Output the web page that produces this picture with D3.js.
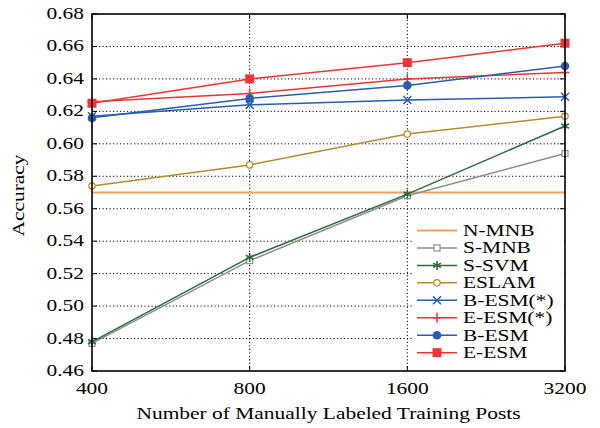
<!DOCTYPE html>
<html>
<head>
<meta charset="utf-8">
<script src="https://cdn.jsdelivr.net/npm/d3@7"></script>
<style>
  body { margin: 0; background: #fff; }
  text { font-family: "Liberation Serif", "DejaVu Serif", serif; fill: #000; }
</style>
</head>
<body>
<div id="chart"></div>
<script>
var posts = [400, 800, 1600, 3200];
var yTicks = [0.46, 0.48, 0.50, 0.52, 0.54, 0.56, 0.58, 0.60, 0.62, 0.64, 0.66, 0.68];

var nMNB    = [0.570, 0.570, 0.570, 0.570];
var sMNB    = [0.477, 0.528, 0.568, 0.594];
var sSVM    = [0.478, 0.530, 0.569, 0.611];
var eslam   = [0.574, 0.587, 0.606, 0.617];
var bESMs   = [0.617, 0.624, 0.627, 0.629];
var eESMs   = [0.626, 0.631, 0.640, 0.644];
var bESM    = [0.616, 0.628, 0.636, 0.648];
var eESM    = [0.625, 0.640, 0.650, 0.662];

var series = [
    {name: "N-MNB",     values: nMNB,  color: "#f5a05a", mark: "none"},
    {name: "S-MNB",     values: sMNB,  color: "#8e8e8e", mark: "square-open"},
    {name: "S-SVM",     values: sSVM,  color: "#2f6b3b", mark: "asterisk"},
    {name: "ESLAM",     values: eslam, color: "#b88a2e", mark: "circle-open"},
    {name: "B-ESM(*)",  values: bESMs, color: "#2a5db0", mark: "x"},
    {name: "E-ESM(*)",  values: eESMs, color: "#ee3535", mark: "plus"},
    {name: "B-ESM",     values: bESM,  color: "#2a5db0", mark: "circle"},
    {name: "E-ESM",     values: eESM,  color: "#ee3535", mark: "square"}
];

var width = 600, height = 428;
var margin = {left: 92, right: 35, top: 14, bottom: 57};
var fs = '16px';
var stretchK = 1.34;

var svg = d3.select('#chart').append('svg')
    .attr('width', width)
    .attr('height', height);

// widen the glyphs a bit, the original uses a wide TeX font
function stretch(sel) {
    sel.each(function () {
        var w = this.getComputedTextLength();
        d3.select(this).attr('textLength', w * stretchK).attr('lengthAdjust', 'spacingAndGlyphs');
    });
}

var x = d3.scaleLog().base(2)
    .domain([400, 3200])
    .range([margin.left, width - margin.right]);

var y = d3.scaleLinear()
    .domain([0.46, 0.68])
    .range([height - margin.bottom, margin.top]);

// grid
var grid = svg.append('g');
grid.selectAll('.hg')
    .data(yTicks.slice(1, -1)).enter()
    .append('line')
    .attr('x1', x(400)).attr('x2', x(3200))
    .attr('y1', function (d) { return y(d); })
    .attr('y2', function (d) { return y(d); })
    .attr('stroke', '#000')
    .attr('stroke-width', 1)
    .attr('stroke-dasharray', '1.2,2.3');
grid.selectAll('.vg')
    .data(posts.slice(1, -1)).enter()
    .append('line')
    .attr('y1', y(0.46)).attr('y2', y(0.68))
    .attr('x1', function (d) { return x(d); })
    .attr('x2', function (d) { return x(d); })
    .attr('stroke', '#000')
    .attr('stroke-width', 1)
    .attr('stroke-dasharray', '1.2,2.3');

// inward ticks on all sides
var tickLen = 5;
var ticks = svg.append('g').attr('stroke', '#000').attr('stroke-width', 1);
yTicks.forEach(function (t) {
    ticks.append('line').attr('x1', x(400)).attr('x2', x(400) + tickLen).attr('y1', y(t)).attr('y2', y(t));
    ticks.append('line').attr('x1', x(3200)).attr('x2', x(3200) - tickLen).attr('y1', y(t)).attr('y2', y(t));
});
posts.forEach(function (p) {
    ticks.append('line').attr('x1', x(p)).attr('x2', x(p)).attr('y1', y(0.46)).attr('y2', y(0.46) - tickLen);
    ticks.append('line').attr('x1', x(p)).attr('x2', x(p)).attr('y1', y(0.68)).attr('y2', y(0.68) + tickLen);
});

// tick labels
svg.selectAll('.ylab')
    .data(yTicks).enter()
    .append('text')
    .attr('x', x(400) - 8)
    .attr('y', function (d) { return y(d) + 5; })
    .attr('text-anchor', 'end')
    .style('font-size', fs)
    .text(function (d) { return d.toFixed(2); })
    .call(stretch);

svg.selectAll('.xlab')
    .data(posts).enter()
    .append('text')
    .attr('x', function (d) { return x(d); })
    .attr('y', y(0.46) + 23)
    .attr('text-anchor', 'middle')
    .style('font-size', fs)
    .text(function (d) { return d; })
    .call(stretch);

svg.append('text')
    .attr('x', (x(400) + x(3200)) / 2)
    .attr('y', 419)
    .attr('text-anchor', 'middle')
    .style('font-size', fs)
    .text('Number of Manually Labeled Training Posts')
    .call(stretch);

svg.append('text')
    .attr('transform', 'translate(24,' + ((y(0.46) + y(0.68)) / 2 + 3) + ') rotate(-90)')
    .attr('text-anchor', 'middle')
    .style('font-size', fs)
    .text('Accuracy')
    .call(stretch);

// marker drawing
function drawMark(sel, type, color, cx, cy) {
    var g = sel.append('g').attr('transform', 'translate(' + cx + ',' + cy + ')');
    if (type === 'square-open') {
        g.append('rect').attr('x', -3).attr('y', -3).attr('width', 6).attr('height', 6)
            .attr('fill', '#fff').attr('stroke', color).attr('stroke-width', 1.2);
    } else if (type === 'square') {
        g.append('rect').attr('x', -4.5).attr('y', -4.5).attr('width', 9).attr('height', 9)
            .attr('fill', color);
    } else if (type === 'circle-open') {
        g.append('circle').attr('r', 3.2).attr('fill', '#fff').attr('stroke', color).attr('stroke-width', 1.2);
    } else if (type === 'circle') {
        g.append('circle').attr('r', 4.3).attr('fill', color);
    } else if (type === 'x') {
        g.append('path').attr('d', 'M-4,-4L4,4M-4,4L4,-4').attr('stroke', color).attr('stroke-width', 1.5);
    } else if (type === 'plus') {
        g.append('path').attr('d', 'M-4.5,0L4.5,0M0,-5L0,5').attr('stroke', color).attr('stroke-width', 1.5);
    } else if (type === 'asterisk') {
        g.append('path').attr('d', 'M0,-4.5L0,4.5M-3.9,-2.25L3.9,2.25M-3.9,2.25L3.9,-2.25')
            .attr('stroke', color).attr('stroke-width', 1.6);
    }
}

var line = d3.line()
    .x(function (d, i) { return x(posts[i]); })
    .y(function (d) { return y(d); });

var plot = svg.append('g');
series.forEach(function (s) {
    plot.append('path')
        .attr('d', line(s.values))
        .attr('fill', 'none')
        .attr('stroke', s.color)
        .attr('stroke-width', s.mark === 'none' ? 1.8 : 1.5);
    if (s.mark !== 'none') {
        s.values.forEach(function (v, i) {
            drawMark(plot, s.mark, s.color, x(posts[i]), y(v));
        });
    }
});

// legend
var legend = svg.append('g');
var lx = 415, ly = 230.5, step = 17.45;
legend.append('rect')
    .attr('x', lx - 3).attr('y', ly - 11)
    .attr('width', x(3200) - lx + 2).attr('height', step * series.length + 6)
    .attr('fill', '#fff');
series.forEach(function (s, i) {
    var yy = ly + i * step;
    legend.append('line')
        .attr('x1', lx + 2).attr('x2', lx + 42)
        .attr('y1', yy).attr('y2', yy)
        .attr('stroke', s.color)
        .attr('stroke-width', s.mark === 'none' ? 1.8 : 1.5);
    if (s.mark !== 'none') drawMark(legend, s.mark, s.color, lx + 22, yy);
    legend.append('text')
        .attr('x', lx + 48)
        .attr('y', yy + 5.5)
        .style('font-size', fs)
        .text(s.name)
        .call(stretch);
});

// frame
svg.append('rect')
    .attr('x', x(400)).attr('y', y(0.68))
    .attr('width', x(3200) - x(400)).attr('height', y(0.46) - y(0.68))
    .attr('fill', 'none')
    .attr('stroke', '#000')
    .attr('stroke-width', 1.6);
</script>
</body>
</html>
